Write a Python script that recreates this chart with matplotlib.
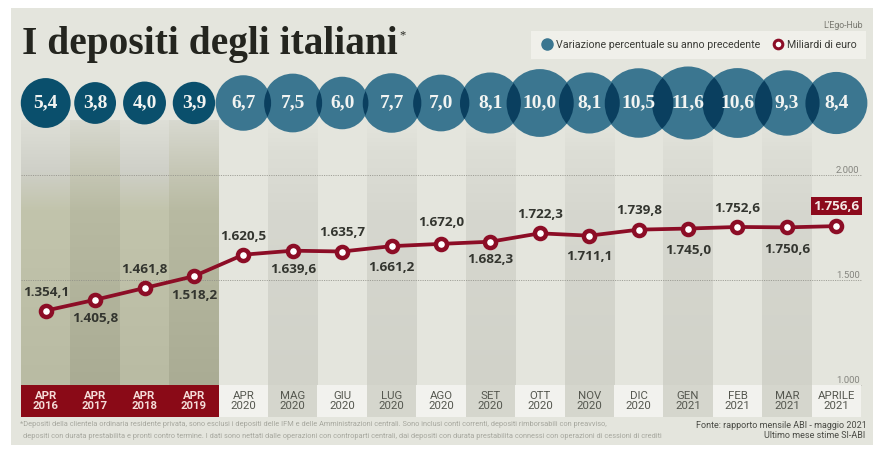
import matplotlib
matplotlib.use("Agg")
import matplotlib.pyplot as plt
import numpy as np
from matplotlib.colors import LinearSegmentedColormap
from matplotlib.lines import Line2D
from matplotlib.patches import Ellipse

periods = ["APR\n2016", "APR\n2017", "APR\n2018", "APR\n2019", "APR\n2020", "MAG\n2020", "GIU\n2020",
           "LUG\n2020", "AGO\n2020", "SET\n2020", "OTT\n2020", "NOV\n2020", "DIC\n2020", "GEN\n2021",
           "FEB\n2021", "MAR\n2021", "APRILE\n2021"]
deposits = [1354.1, 1405.8, 1461.8, 1518.2, 1620.5, 1639.6, 1635.7, 1661.2, 1672.0, 1682.3,
            1722.3, 1711.1, 1739.8, 1745.0, 1752.6, 1750.6, 1756.6]
variation = [5.4, 3.8, 4.0, 3.9, 6.7, 7.5, 6.0, 7.7, 7.0, 8.1, 10.0, 8.1, 10.5, 11.6, 10.6, 9.3, 8.4]
y_ticks = [1000, 1500, 2000]
y_tick_labels = ["1.000", "1.500", "2.000"]

W, H, DPI = 883, 459, 100
X0, X1 = 21, 861
PLOT_TOP, PLOT_BOTTOM = 120, 385
PX_PER_UNIT = 0.21
PANEL = "#e4e5dd"
RED = "#8c0d26"
DARK_BLUE = "#0a4f6c"
BLUE = "#3b7690"
OVERLAP = "#0a3f5f"
SANS = "Roboto"
VALUE_FONT = "Open Sans"
SERIF = "Liberation Serif"


def px_axes(x0, y0, x1, y1, **kw):
    return fig.add_axes([x0 / W, 1 - y1 / H, (x1 - x0) / W, (y1 - y0) / H], **kw)


def it_number(value):
    return f"{value:,.1f}".replace(",", "X").replace(".", ",").replace("X", ".")


fig = plt.figure(figsize=(W / DPI, H / DPI), dpi=DPI, facecolor="white")
x = np.arange(len(periods))
xlim = (-0.5, len(periods) - 0.5)
col_px = (X1 - X0) / len(periods)

# panel
bg = px_axes(11, 8, 873, 445)
bg.set_facecolor(PANEL)
bg.set_xticks([]); bg.set_yticks([])
for s in bg.spines.values():
    s.set_visible(False)
bg.set_zorder(0)

# main chart
ax = px_axes(X0, PLOT_TOP, X1, PLOT_BOTTOM)
ax.set_zorder(1)
ax.patch.set_visible(False)
ymax = 1000 + (PLOT_BOTTOM - PLOT_TOP) / PX_PER_UNIT
grad = np.linspace(0, 1, 256).reshape(-1, 1)


def f(py):
    return (PLOT_BOTTOM - py) / (PLOT_BOTTOM - PLOT_TOP)


olive_a = LinearSegmentedColormap.from_list("a", [(0, "#b9bba3"), (f(210), "#c2c4ac"), (f(170), "#cfd0c8"), (1, "#dedfd7")])
olive_b = LinearSegmentedColormap.from_list("b", [(0, "#aaac94"), (f(210), "#b8baa2"), (f(170), "#c6c7b6"), (1, "#d8d9d0")])
grey = LinearSegmentedColormap.from_list("g", [(0, "#d1d2c9"), (f(210), "#d6d7cf"), (f(150), "#dddED6"), (1, "#e4e5dd")])
for i in x:
    if i < 4:
        cmap = olive_b if i % 2 else olive_a
    elif i % 2:
        cmap = grey
    else:
        continue
    ax.imshow(grad, extent=(i - 0.5, i + 0.5, 1000, ymax), origin="lower", aspect="auto", cmap=cmap, zorder=1)
ax.set_xlim(*xlim)
ax.set_ylim(1000, ymax)
ax.set_xticks([])
for s in ax.spines.values():
    s.set_visible(False)
ax.grid(axis="y", color="#8f8f87", lw=0.55, ls=(0, (1.5, 1.5)), zorder=2)
ax.set_axisbelow(False)
for ln in ax.get_ygridlines():
    ln.set_clip_on(False)
ax.yaxis.tick_right()
ax.set_yticks(y_ticks, y_tick_labels)
ax.tick_params(axis="y", length=0, pad=-1, labelsize=6.8, labelcolor="#85857f")
for t in ax.yaxis.get_ticklabels():
    t.set_fontfamily(SANS)
    t.set_ha("right")
    t.set_va("bottom")

ax.plot(x, deposits, color=RED, lw=2.7, marker="o", ms=8, mew=3.2, mfc="white", mec=RED, zorder=4, clip_on=False)
label_offsets_px = [18, -19, 19, -19, 18, -19, 19, -21, 21, -18, 19, -21, 19, -22, 18, -22]
for i, off in enumerate(label_offsets_px):
    ax.annotate(it_number(deposits[i]), (x[i], deposits[i]), xytext=(0, off * 72 / DPI), textcoords="offset points",
                ha="center", va="center", fontsize=9.7, fontweight="bold", family=VALUE_FONT, color="#33352f", zorder=5)
ax.annotate(it_number(deposits[-1]), (x[-1], deposits[-1]), xytext=(0, 20 * 72 / DPI), textcoords="offset points",
            ha="center", va="center", fontsize=9.7, fontweight="bold", family=VALUE_FONT, color="#f4e9e6", zorder=6,
            bbox=dict(boxstyle="square,pad=0.18", fc="#8c0a1c", ec="none"))

# bubble row
ab = px_axes(X0, 60, X1, 146)
ab.set_zorder(2)
ab.patch.set_visible(False)
ab.axis("off")
ab.set_xlim(*xlim)
ab.set_ylim(0, 1)
v = np.array(variation)
d_px = np.sqrt(460 * v)
sizes = (d_px * 72 / DPI) ** 2
row = np.full(len(v), 0.5)
ab.scatter(x, row, s=sizes, c=[DARK_BLUE if i < 4 else BLUE for i in x], linewidths=0, clip_on=False, zorder=2)
for i in x[5:]:
    sc = ab.scatter([x[i]], [0.5], s=sizes[i], c=OVERLAP, linewidths=0, zorder=3)
    sc.set_clip_path(Ellipse((x[i - 1], 0.5), d_px[i - 1] / col_px, d_px[i - 1] / 86, transform=ab.transData))
for i in x:
    ab.text(x[i], 0.5, f"{variation[i]:.1f}".replace(".", ","), ha="center", va="center", color="#f2f4f2",
            fontsize=14, fontweight="bold", family=SERIF, zorder=4)

# period strip
ac = px_axes(X0, PLOT_BOTTOM, X1, 417)
ac.set_zorder(2)
ac.axis("off")
ac.set_xlim(*xlim)
ac.set_ylim(0, 1)
cell_colors = ["#8a0a17" if i < 4 else ("#d5d6cd" if i % 2 else "#f2f2ee") for i in x]
ac.bar(x, np.ones(len(x)), width=1, color=cell_colors, linewidth=0)
for i in x:
    ac.text(x[i], 0.5, periods[i], ha="center", va="center", fontsize=8.2, linespacing=1.12, family=SANS,
            color="#f4dcd8" if i < 4 else "#55574f", fontweight="bold" if i < 4 else "normal")

# text overlays
top = px_axes(0, 0, W, H)
top.set_zorder(3)
top.patch.set_visible(False)
top.axis("off")
top.set_xlim(0, W)
top.set_ylim(H, 0)
top.text(22, 54, "I depositi degli italiani", family=SERIF, fontweight="bold", fontsize=28.4, color="#24251f", va="baseline")
top.text(399, 38, "*", family=SERIF, fontsize=9, color="#24251f", va="baseline")
top.text(863, 26, "L'Ego-Hub", family=SANS, fontsize=6.3, color="#77776f", ha="right", va="center")
top.text(20, 425, "*Depositi della clientela ordinaria residente privata, sono esclusi i depositi delle IFM e delle Amministrazioni centrali. Sono inclusi conti correnti, depositi rimborsabili con preavviso,",
         family=SANS, fontsize=5.3, color="#a6a79e", va="center")
top.text(23, 436, "depositi con durata prestabilita e pronti contro termine. I dati sono nettati dalle operazioni con controparti centrali, dai depositi con durata prestabilita connessi con operazioni di cessioni di crediti",
         family=SANS, fontsize=5.3, color="#a6a79e", va="center")
top.text(867, 426, "Fonte: rapporto mensile ABI - maggio 2021", family=SANS, fontsize=6.5, color="#4a4b45", ha="right", va="center")
top.text(865, 436, "Ultimo mese stime SI-ABI", family=SANS, fontsize=6.5, color="#4a4b45", ha="right", va="center")

handles = [Line2D([], [], ls="none", marker="o", ms=8, mfc=BLUE, mec=BLUE, label="Variazione percentuale su anno precedente"),
           Line2D([], [], ls="none", marker="o", ms=6.2, mfc="white", mec=RED, mew=2.2, label="Miliardi di euro")]
leg = top.legend(handles=handles, ncol=2, loc="center", bbox_to_anchor=(698.5, 45), bbox_transform=top.transData,
                 frameon=True, facecolor="#f0f0ea", edgecolor="none", fancybox=False, framealpha=1,
                 prop={"family": SANS, "size": 7.7}, labelcolor="#3a3b36", handletextpad=0.2, columnspacing=1.0,
                 borderpad=0.85, handlelength=1.3)

fig.savefig("out.png", dpi=DPI, facecolor="white")
